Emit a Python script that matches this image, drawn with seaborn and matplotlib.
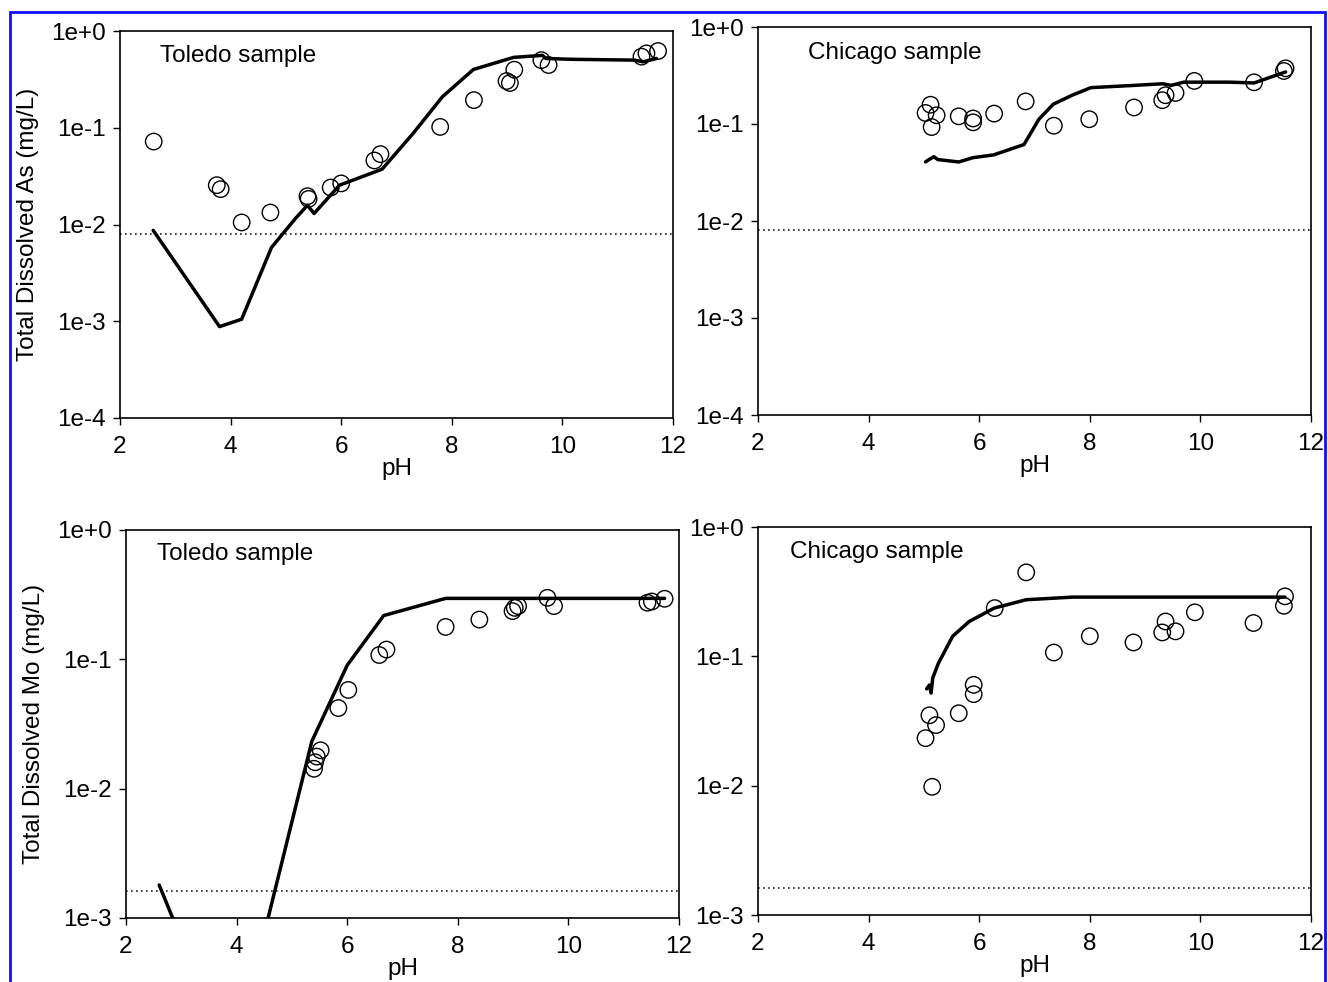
import numpy as np
import pandas as pd
import matplotlib
matplotlib.use("Agg")
import matplotlib.pyplot as plt
import seaborn as sns
from matplotlib.patches import Rectangle

# ---------------- data ----------------
# Panel A: Toledo As
tol_as_ph = [2.61, 3.75, 3.82, 4.20, 4.72, 5.39, 5.41, 5.81, 6.00, 6.60, 6.71, 7.79, 8.40, 8.99, 9.05, 9.13, 9.62, 9.75, 11.43, 11.52, 11.73]
tol_as_val = [0.072, 0.0255, 0.0232, 0.0105, 0.0133, 0.0196, 0.0184, 0.0241, 0.0266, 0.0459, 0.0534, 0.102, 0.193, 0.304, 0.29, 0.398, 0.50, 0.445, 0.543, 0.587, 0.621]
tol_as_model_ph = [2.6, 3.8, 4.2, 4.74, 5.17, 5.39, 5.51, 5.97, 6.74, 7.3, 7.83, 8.39, 9.12, 9.64, 9.7, 10.17, 11.3, 11.46, 11.7]
tol_as_model_val = [0.0087, 0.00088, 0.00105, 0.0058, 0.0115, 0.0158, 0.013, 0.0255, 0.0373, 0.0873, 0.209, 0.40, 0.534, 0.56, 0.52, 0.51, 0.50, 0.48, 0.52]

# Panel B: Chicago As
chi_as_ph = [5.03, 5.12, 5.23, 5.14, 5.63, 5.89, 5.89, 6.27, 6.84, 7.35, 7.99, 8.80, 9.31, 9.37, 9.55, 9.89, 10.97, 11.51, 11.54]
chi_as_val = [0.13, 0.158, 0.123, 0.093, 0.12, 0.114, 0.104, 0.128, 0.171, 0.096, 0.112, 0.148, 0.176, 0.198, 0.209, 0.278, 0.269, 0.352, 0.375]
chi_as_model_ph = [5.03, 5.12, 5.18, 5.25, 5.63, 5.89, 6.26, 6.81, 7.08, 7.34, 7.68, 8.02, 8.8, 9.32, 9.47, 9.7, 10.52, 10.97, 11.54]
chi_as_model_val = [0.0407, 0.044, 0.046, 0.043, 0.0406, 0.045, 0.048, 0.0614, 0.112, 0.16, 0.198, 0.237, 0.25, 0.26, 0.25, 0.27, 0.27, 0.265, 0.344]

# Panel C: Toledo Mo
tol_mo_ph = [5.40, 5.42, 5.45, 5.52, 5.84, 6.02, 6.58, 6.71, 7.78, 8.39, 8.99, 9.03, 9.09, 9.62, 9.74, 11.43, 11.51, 11.74]
tol_mo_val = [0.01425, 0.016, 0.0177, 0.0198, 0.042, 0.058, 0.108, 0.119, 0.178, 0.203, 0.236, 0.25, 0.258, 0.299, 0.258, 0.274, 0.28, 0.294]
tol_mo_model_ph = [2.6, 3.8, 4.2, 5.36, 6.0, 6.66, 7.78, 11.74]
tol_mo_model_val = [0.0018, 0.0001, 0.00023, 0.0232, 0.09, 0.218, 0.296, 0.296]

# Panel D: Chicago Mo
chi_mo_ph = [5.03, 5.10, 5.22, 5.15, 5.63, 5.90, 5.90, 6.28, 6.85, 7.35, 8.00, 8.79, 9.31, 9.37, 9.55, 9.90, 10.96, 11.51, 11.53]
chi_mo_val = [0.0233, 0.035, 0.0294, 0.0098, 0.0363, 0.0602, 0.051, 0.236, 0.446, 0.107, 0.143, 0.128, 0.153, 0.186, 0.156, 0.219, 0.181, 0.246, 0.291]
chi_mo_model_ph = [5.05, 5.10, 5.13, 5.16, 5.26, 5.52, 5.82, 6.27, 6.85, 7.69, 11.53]
chi_mo_model_val = [0.056, 0.06, 0.052, 0.068, 0.088, 0.143, 0.186, 0.236, 0.274, 0.287, 0.287]

# detection limits
as_limit = 0.008
mo_limit = 0.00162

sample_labels = ["Toledo sample", "Chicago sample", "Toledo sample", "Chicago sample"]
ylabels = ["Total Dissolved As (mg/L)", "Total Dissolved Mo (mg/L)"]
xticks = [2, 4, 6, 8, 10, 12]
as_yticks = [1e-4, 1e-3, 1e-2, 1e-1, 1e0]
as_yticklabels = ["1e-4", "1e-3", "1e-2", "1e-1", "1e+0"]
mo_yticks = [1e-3, 1e-2, 1e-1, 1e0]
mo_yticklabels = ["1e-3", "1e-2", "1e-1", "1e+0"]

# ---------------- style ----------------
sns.set_style("white")
plt.rcParams["font.family"] = ["Liberation Sans", "DejaVu Sans"]
plt.rcParams["text.color"] = "black"
plt.rcParams["axes.labelcolor"] = "black"

W, H = 1328, 982
fig = plt.figure(figsize=(W / 100, H / 100), dpi=100)

def rect(l, r, t, b):
    return [l / W, 1 - b / H, (r - l) / W, (b - t) / H]

positions = [
    rect(120, 673, 31, 418),
    rect(758, 1311, 27, 415),
    rect(126, 679, 530, 918),
    rect(758, 1311, 527, 915),
]
text_pos = [(0.073, 0.935), (0.091, 0.933), (0.056, 0.937), (0.058, 0.935)]

FS = 17.5

panels = [
    (tol_as_ph, tol_as_val, tol_as_model_ph, tol_as_model_val, as_limit, as_yticks, as_yticklabels),
    (chi_as_ph, chi_as_val, chi_as_model_ph, chi_as_model_val, as_limit, as_yticks, as_yticklabels),
    (tol_mo_ph, tol_mo_val, tol_mo_model_ph, tol_mo_model_val, mo_limit, mo_yticks, mo_yticklabels),
    (chi_mo_ph, chi_mo_val, chi_mo_model_ph, chi_mo_model_val, mo_limit, mo_yticks, mo_yticklabels),
]

for i, (ph, val, mph, mval, lim, yt, ytl) in enumerate(panels):
    ax = fig.add_axes(positions[i])
    ax.set_yscale("log")
    ax.set_xlim(2, 12)
    ax.set_ylim(yt[0], yt[-1])
    # detection limit
    ax.axhline(lim, color="#222222", linestyle=(0, (1, 2)), linewidth=1.2, zorder=1)
    dfm = pd.DataFrame({"pH": mph, "c": mval})
    sns.lineplot(data=dfm, x="pH", y="c", sort=False, estimator=None, color="black",
                 linewidth=2.5, ax=ax, zorder=3)
    dfp = pd.DataFrame({"pH": ph, "c": val})
    sns.scatterplot(data=dfp, x="pH", y="c", marker="o", s=140, facecolor="none",
                    edgecolor="black", linewidth=1.0, ax=ax, zorder=4)
    ax.set_xticks(xticks)
    ax.set_xticklabels([str(x) for x in xticks])
    ax.set_yticks(yt)
    ax.set_yticklabels(ytl)
    ax.minorticks_off()
    ax.tick_params(axis="both", which="major", direction="out", length=5, width=1.0,
                   labelsize=FS, color="black", labelcolor="black",
                   bottom=True, left=True, top=False, right=False)
    ax.tick_params(axis="x", pad=8)
    ax.tick_params(axis="y", pad=5)
    for s in ax.spines.values():
        s.set_visible(True)
        s.set_color("black")
        s.set_linewidth(1.2)
    ax.set_xlabel("pH", fontsize=FS, labelpad=0, color="black")
    if i % 2 == 0:
        ax.set_ylabel(ylabels[i // 2], fontsize=FS, labelpad=9, color="black")
    else:
        ax.set_ylabel("")
    ax.text(text_pos[i][0], text_pos[i][1], sample_labels[i], transform=ax.transAxes,
            ha="left", va="center", fontsize=FS, color="black")

# blue frame
fig.patches.append(Rectangle((10 / W, -0.05), (1325 - 10) / W, 1.05 - 12 / H,
                             transform=fig.transFigure, fill=False,
                             edgecolor="#1010ff", linewidth=2.0))

fig.savefig("out.png", dpi=100)
